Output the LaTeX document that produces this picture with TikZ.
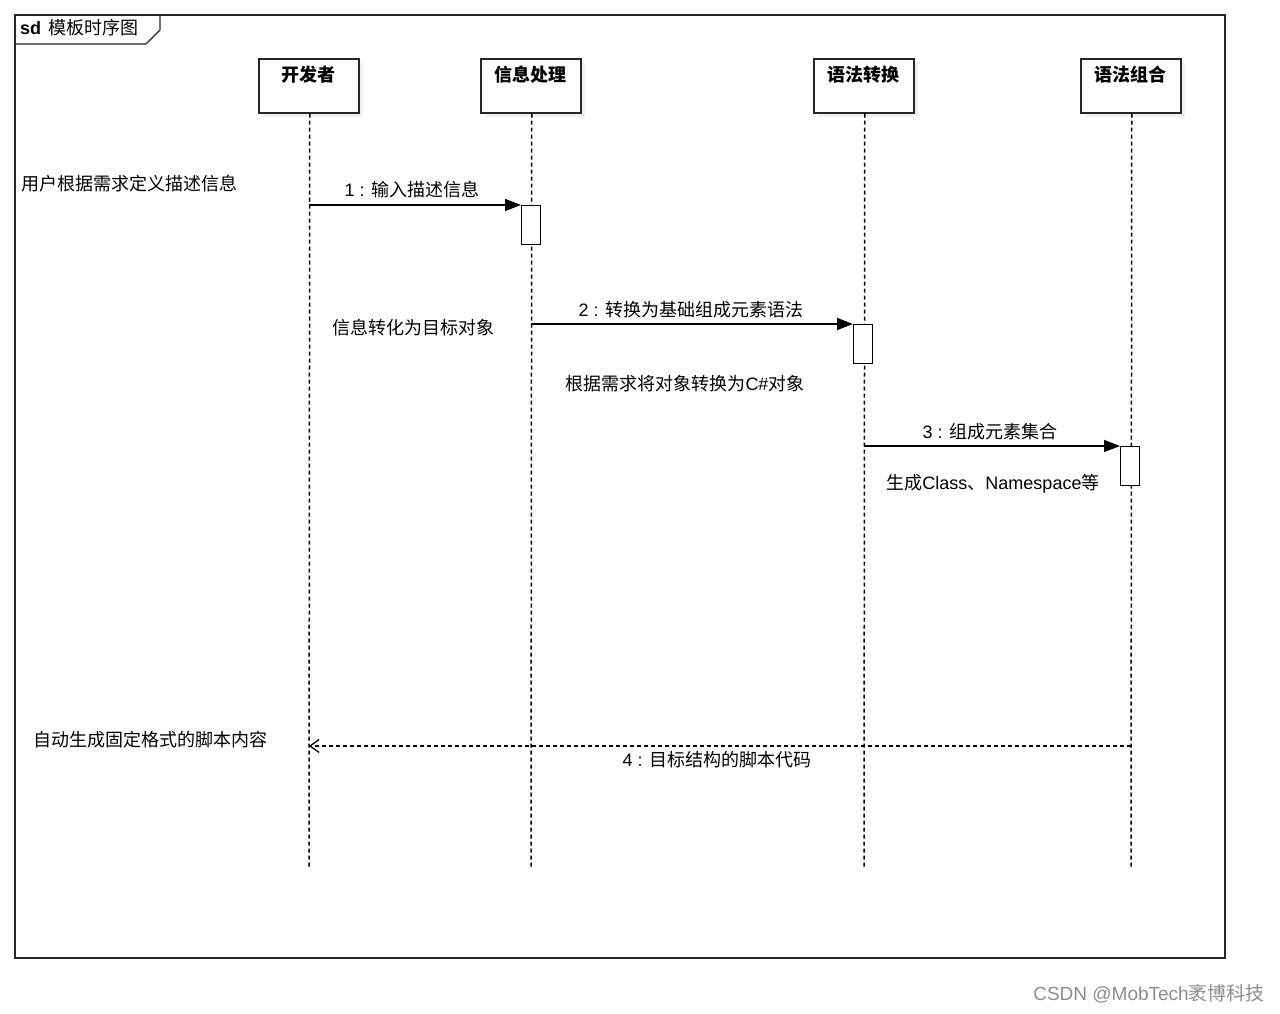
\documentclass[tikz,border=0pt]{standalone}
\usepackage{fontspec}
\setmainfont{Liberation Sans}
\newfontfamily\cjk{Noto Sans CJK SC}
\usetikzlibrary{arrows.meta}
\newcommand\zh[1]{{\cjk #1}}
\begin{document}
\begin{tikzpicture}[x=1pt,y=-1pt,
  every node/.style={font=\fontsize{18}{21}\selectfont, inner sep=0pt},
  frame/.style={draw=black!85, line width=1.6pt},
  header/.style={draw=black!85, line width=1.5pt, fill=white, minimum width=100pt, minimum height=54pt, anchor=north west},
  shadowbox/.style={fill=black!6, draw=none, minimum width=100pt, minimum height=54pt, anchor=north west},
  hdrtext/.style={font=\fontsize{18}{21}\selectfont\bfseries, anchor=center},
  life/.style={draw=black, line width=1.5pt, dash pattern=on 4pt off 3pt},
  actbox/.style={draw=black, line width=1.4pt, fill=white, minimum width=19pt, minimum height=39pt, anchor=north west},
  msg/.style={draw=black, line width=1.5pt, -{Triangle[length=16pt,width=12pt]}},
  ret/.style={draw=black, line width=1.4pt, dash pattern=on 4pt off 3pt, -{Straight Barb[length=9pt,width=13pt,line width=1.3pt]}},
  lbl/.style={anchor=center},
  note/.style={anchor=west}
]
\useasboundingbox (0,0) rectangle (1280,1013);
% frame
\node[frame, minimum width=1210pt, minimum height=943pt, anchor=north west] (frm) at (14,14) {};
\draw[frame, line width=1.3pt] (14,44) -- (146,44) -- (160,30) -- (160,14);
\node[anchor=west] (title) at (20,28) {\textbf{sd}\hspace{7pt}\zh{模板时序图}};

% shadows
\node[shadowbox] (s1) at (263,63) {};
\node[shadowbox] (s2) at (485,63) {};
\node[shadowbox] (s3) at (818,63) {};
\node[shadowbox] (s4) at (1085,63) {};
% headers
\node[header] (h1) at (258,58) {};
\node[header] (h2) at (480,58) {};
\node[header] (h3) at (813,58) {};
\node[header] (h4) at (1080,58) {};
\node[hdrtext] (t1) at (308,75) {\zh{\bfseries 开发者}};
\node[hdrtext] (t2) at (530,75) {\zh{\bfseries 信息处理}};
\node[hdrtext] (t3) at (863,75) {\zh{\bfseries 语法转换}};
\node[hdrtext] (t4) at (1130,75) {\zh{\bfseries 语法组合}};

% lifeline ends
\coordinate (e1) at (309,868);
\coordinate (e2) at (531,868);
\coordinate (e3) at (864,868);
\coordinate (e4) at (1131,868);
\draw[life] (h1.south) ++(1,0) coordinate (l1) -- (e1);
\draw[life] (h2.south) ++(1,0) coordinate (l2) -- (e2);
\draw[life] (h3.south) ++(1,0) coordinate (l3) -- (e3);
\draw[life] (h4.south) ++(1,0) coordinate (l4) -- (e4);

% activation boxes
\node[actbox] (a1) at (521,205) {};
\node[actbox] (a2) at (853,324) {};
\node[actbox] (a3) at (1120,446) {};

% messages
\coordinate (m1) at (309,205);
\coordinate (m2) at (531,324);
\coordinate (m3) at (864,446);
\coordinate (m4s) at (1131,746);
\coordinate (m4e) at (309,746);
\draw[msg] (m1) -- (a1.north west);
\draw[msg] (m2) -- (a2.north west);
\draw[msg] (m3) -- (a3.north west);
\draw[ret] (m4s) -- (m4e);

% message labels
\node[lbl] (ml1) at (412,190) {1 : \zh{输入描述信息}};
\node[lbl] (ml2) at (691,310) {2 : \zh{转换为基础组成元素语法}};
\node[lbl] (ml3) at (990,432) {3 : \zh{组成元素集合}};
\node[lbl] (ml4) at (717,760) {4 : \zh{目标结构的脚本代码}};

% notes
\node[note] (n1) at (21,184) {\zh{用户根据需求定义描述信息}};
\node[lbl] (n2) at (413,328) {\zh{信息转化为目标对象}};
\node[lbl] (n3) at (685,384) {\zh{根据需求将对象转换为}C\#\zh{对象}};
\node[lbl] (n4) at (993,484) {\zh{生成}Class\zh{、}Namespace\zh{等}};
\node[note] (n5) at (33,740) {\zh{自动生成固定格式的脚本内容}};

% watermark
\node[anchor=east, text=black!45, font=\fontsize{19}{22}\selectfont] (wm) at (1265,994) {CSDN @MobTech\zh{袤博科技}};
\end{tikzpicture}
\end{document}
